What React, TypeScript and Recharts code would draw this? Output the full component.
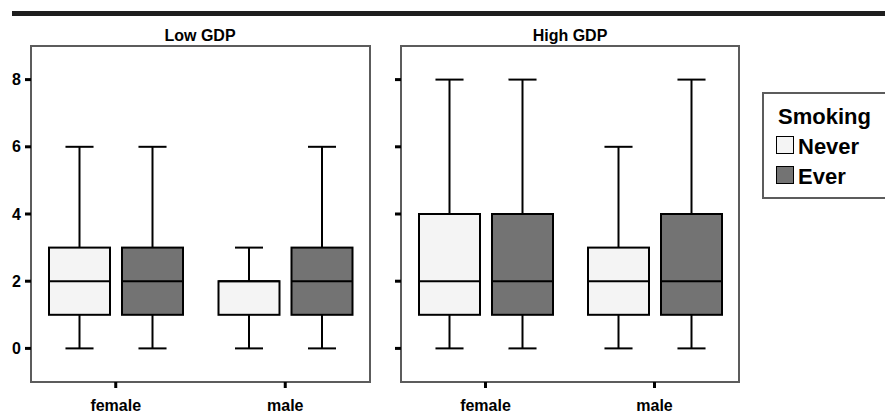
import { ComposedChart, Bar, XAxis, YAxis, ReferenceArea } from "recharts";

const categories = ["female", "male"];
// box stats per category: [min, q1, median, q3, max]
const lowNever = [
  [0, 1, 2, 3, 6],
  [0, 1, 2, 2, 3],
];
const lowEver = [
  [0, 1, 2, 3, 6],
  [0, 1, 2, 3, 6],
];
const highNever = [
  [0, 1, 2, 4, 8],
  [0, 1, 2, 3, 6],
];
const highEver = [
  [0, 1, 2, 4, 8],
  [0, 1, 2, 4, 8],
];
const yTicks = [0, 2, 4, 6, 8];
const yDomain = [-1, 9];
const panelTitles = ["Low GDP", "High GDP"];
const legendTitle = "Smoking";
const legendItems = ["Never", "Ever"];

const NEVER = "#f4f4f4";
const EVER = "#737373";
const FRAME = "#5c5c5c";
const FONT = '"Liberation Sans", Arial, sans-serif';

function buildRows(never: number[][], ever: number[][]) {
  return categories.map((sex, i) => ({ sex, never: never[i], ever: ever[i] }));
}

function BoxShape(props: any) {
  const { x, y, width, height, stats, fill } = props;
  const [min, q1, med, q3, max] = stats as number[];
  const top = Math.min(y, y + height);
  const h = Math.abs(height);
  const unit = h / (max - min);
  const py = (v: number) => top + (max - v) * unit;
  const cx = x + width / 2;
  const cap = width * 0.46;
  return (
    <g stroke="#000" strokeWidth={2}>
      <line x1={cx} x2={cx} y1={py(max)} y2={py(q3)} />
      <line x1={cx} x2={cx} y1={py(q1)} y2={py(min)} />
      <line x1={cx - cap / 2} x2={cx + cap / 2} y1={py(max)} y2={py(max)} />
      <line x1={cx - cap / 2} x2={cx + cap / 2} y1={py(min)} y2={py(min)} />
      <rect x={x} y={py(q3)} width={width} height={py(q1) - py(q3)} fill={fill} />
      <line x1={x} x2={x + width} y1={py(med)} y2={py(med)} />
    </g>
  );
}

function Panel({ rows, showLabels, marginRight }: any) {
  return (
    <ComposedChart
      width={380}
      height={413}
      data={rows}
      margin={{ top: 46, right: marginRight, bottom: 0, left: 0 }}
      barSize={61}
      barGap={12}
    >
      <XAxis
        dataKey="sex"
        height={31}
        axisLine={false}
        tickLine={{ stroke: "#000", strokeWidth: 3 }}
        tickSize={6}
        tickMargin={12}
        tick={{ fill: "#000", fontSize: 16, fontWeight: "bold", fontFamily: FONT }}
      />
      <YAxis
        domain={yDomain}
        ticks={yTicks}
        width={31}
        axisLine={false}
        tickLine={{ stroke: "#000", strokeWidth: 3 }}
        tickSize={6}
        tickMargin={4}
        tickFormatter={(v: number) => (showLabels ? String(v) : "")}
        tick={{ fill: "#000", fontSize: 16, fontWeight: "bold", fontFamily: FONT }}
      />
      <ReferenceArea
        y1={yDomain[0]}
        y2={yDomain[1]}
        fill="none"
        fillOpacity={0}
        stroke={FRAME}
        strokeWidth={2}
      />
      <Bar
        dataKey={(d: any) => [d.never[0], d.never[4]]}
        isAnimationActive={false}
        shape={(p: any) => <BoxShape {...p} stats={p.payload.never} fill={NEVER} />}
      />
      <Bar
        dataKey={(d: any) => [d.ever[0], d.ever[4]]}
        isAnimationActive={false}
        shape={(p: any) => <BoxShape {...p} stats={p.payload.ever} fill={EVER} />}
      />
    </ComposedChart>
  );
}

const titleStyle: React.CSSProperties = {
  position: "absolute",
  top: 28,
  width: 338,
  textAlign: "center",
  fontFamily: FONT,
  fontWeight: "bold",
  fontSize: 16,
  lineHeight: "16px",
};

export default function App() {
  return (
    <div
      style={{
        position: "fixed",
        left: 0,
        top: 0,
        width: 885,
        height: 413,
        background: "#fff",
        overflow: "hidden",
      }}
    >
      <div style={{ position: "absolute", left: 12, top: 11, width: 873, height: 5, background: "#1e1e1e" }} />
      <div style={{ ...titleStyle, left: 31 }}>{panelTitles[0]}</div>
      <div style={{ ...titleStyle, left: 401 }}>{panelTitles[1]}</div>
      <div style={{ position: "absolute", left: 0, top: 0 }}>
        <Panel rows={buildRows(lowNever, lowEver)} showLabels marginRight={10} />
      </div>
      <div style={{ position: "absolute", left: 370, top: 0 }}>
        <Panel rows={buildRows(highNever, highEver)} showLabels={false} marginRight={11} />
      </div>
      <div
        style={{
          position: "absolute",
          left: 762,
          top: 92,
          width: 140,
          height: 107,
          border: `2px solid ${FRAME}`,
          background: "#fff",
          fontFamily: FONT,
          fontWeight: "bold",
          fontSize: 22,
          lineHeight: "30px",
          paddingLeft: 12,
          paddingTop: 8,
          boxSizing: "border-box",
        }}
      >
        <div style={{ marginLeft: 2 }}>{legendTitle}</div>
        {legendItems.map((name, i) => (
          <div key={name} style={{ display: "flex", alignItems: "center" }}>
            <span
              style={{
                display: "inline-block",
                width: 18,
                height: 18,
                boxSizing: "border-box",
                border: "1.5px solid #000",
                background: i === 0 ? NEVER : EVER,
                marginRight: 4,
                position: "relative",
                top: -2,
              }}
            />
            {name}
          </div>
        ))}
      </div>
    </div>
  );
}
